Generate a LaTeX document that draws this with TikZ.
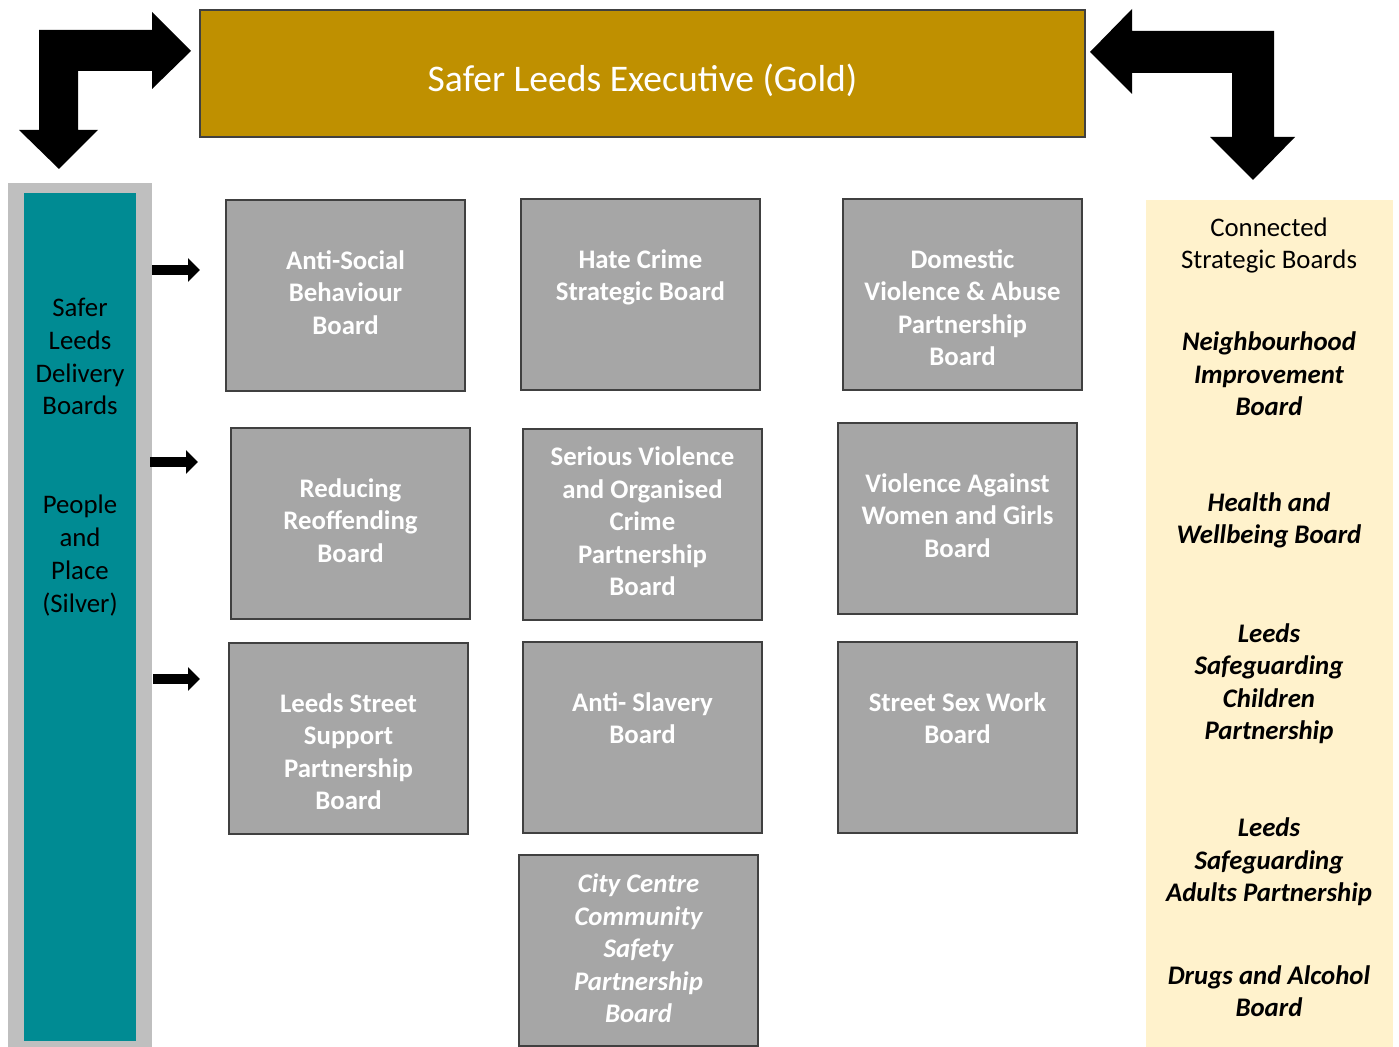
\documentclass[tikz,border=0pt]{standalone}
\usepackage{fontspec}
\setmainfont{Carlito}
\usetikzlibrary{arrows.meta}

\definecolor{goldexec}{RGB}{191,144,0}
\definecolor{tealpanel}{RGB}{0,139,147}
\definecolor{greypanel}{RGB}{191,191,191}
\definecolor{greybox}{RGB}{166,166,166}
\definecolor{boxedge}{RGB}{64,64,64}
\definecolor{creampanel}{RGB}{255,242,204}

\begin{document}
\begin{tikzpicture}[x=0.5pt,y=-0.5pt,
    board/.style={draw=boxedge, line width=0.75pt, fill=greybox, inner sep=0pt,
        minimum width=119.5pt, minimum height=95.5pt, text=white,
        font=\fontsize{13.4}{16.25}\selectfont\bfseries,
        execute at begin node={\begin{minipage}[c][95.5pt][t]{119.5pt}\centering\vspace*{#1}\strut},
        execute at end node={\end{minipage}}},
    board/.default=23.3pt,
    sidetext/.style={align=center, inner sep=0pt, font=\fontsize{13.4}{16.45}\selectfont},
    linked/.style={sidetext, font=\fontsize{13.4}{16.25}\selectfont\bfseries\itshape},
    feed/.style={line width=5pt, -{Triangle[length=6pt,width=11.5pt]}}]
    \useasboundingbox (0,0) rectangle (1399,1047);

    % executive
    \node[draw=boxedge, line width=0.75pt, fill=goldexec, minimum width=442.5pt, minimum height=63.5pt,
        text=white, text height=18.5pt, text depth=0pt, font=\fontsize{18.8}{22}\selectfont]
        (gold) at (642.5,73.5) {Safer Leeds Executive (Gold)};

    % bent arrows
    \fill (39,30) -- (152,30) -- (152,12) -- (191,51) -- (152,89) -- (152,71) -- (78,71)
        -- (78,130) -- (98,130) -- (59,169) -- (19,130) -- (39,130) -- cycle;
    \fill (1090,52) -- (1132,9) -- (1132,31) -- (1274,31) -- (1274,137) -- (1295,137)
        -- (1253,180) -- (1210,137) -- (1232,137) -- (1232,73) -- (1132,73) -- (1132,94) -- cycle;

    % silver panel
    \fill[greypanel] (8,183) rectangle (152,1047);
    \fill[tealpanel] (24,193) rectangle (136,1041);
    \node[sidetext] (silver) at (80,457) {Safer\\Leeds\\Delivery\\Boards\\[16.45pt]\\People\\and\\Place\\(Silver)};

    % connected boards
    \fill[creampanel] (1146,200) rectangle (1393,1047);
    \node[sidetext] (conn) at (1269,245.5) {Connected\\Strategic Boards};
    \node[linked] (nib) at (1269,374) {Neighbourhood\\Improvement\\Board};
    \node[linked] (hwb) at (1269,520.5) {Health and\\Wellbeing Board};
    \node[linked] (lscp) at (1269,683.5) {Leeds\\Safeguarding\\Children\\Partnership};
    \node[linked] (lsap) at (1269,862) {Leeds\\Safeguarding\\Adults Partnership};
    \node[linked] (dab) at (1269,991) {Drugs and Alcohol\\Board};

    % delivery boards
    \node[board] (asb) at (345.5,295.5) {Anti-Social\\Behaviour\\Board};
    \node[board] (hate) at (640.5,294.5) {Hate Crime\\Strategic Board};
    \node[board] (dva) at (962.5,294.5) {Domestic\\Violence \& Abuse\\Partnership\\Board};
    \node[board] (reoff) at (350.5,523.5) {Reducing\\Reoffending\\Board};
    \node[board=7pt] (svoc) at (642.5,524.5) {Serious Violence\\and Organised\\Crime\\Partnership\\Board};
    \node[board] (vawg) at (957.5,518.5) {Violence Against\\Women and Girls\\Board};
    \node[board] (lssp) at (348.5,738.5) {Leeds Street\\Support\\Partnership\\Board};
    \node[board] (slav) at (642.5,737.5) {Anti- Slavery\\Board};
    \node[board] (ssw) at (957.5,737.5) {Street Sex Work\\Board};
    \node[board=7.5pt, font=\fontsize{13.4}{16.25}\selectfont\bfseries\itshape] (ccsp) at (638.5,950.5)
        {City Centre\\Community\\Safety\\Partnership\\Board};

    % feeds into boards
    \coordinate (f1s) at (152,270); \coordinate (f1e) at (200,270);
    \coordinate (f2s) at (150,462); \coordinate (f2e) at (198,462);
    \coordinate (f3s) at (153,679); \coordinate (f3e) at (200,679);
    \draw[feed] (f1s) -- (f1e);
    \draw[feed] (f2s) -- (f2e);
    \draw[feed] (f3s) -- (f3e);
\end{tikzpicture}
\end{document}
